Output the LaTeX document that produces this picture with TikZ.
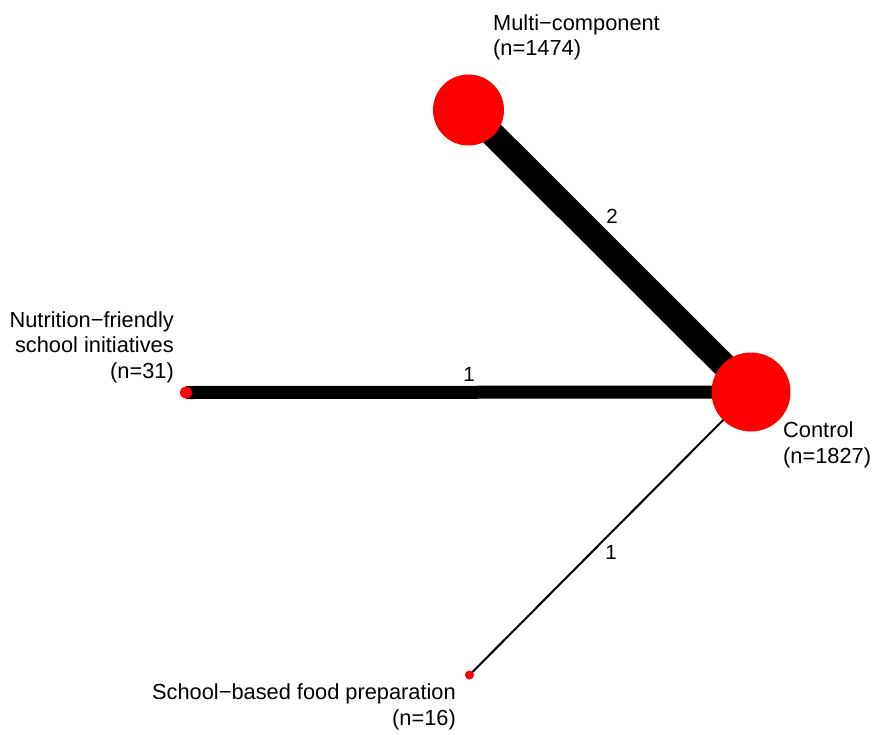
\documentclass[tikz,border=0pt]{standalone}
\usepackage{fontspec}
\setmainfont{Liberation Sans}
\usepackage{tikz}
\usetikzlibrary{backgrounds}

\begin{document}
\begin{tikzpicture}[
  x=1pt, y=-1pt,
  treat/.style={circle, fill=red, draw=none, inner sep=0pt},
  lbl/.style={font=\fontsize{21.8}{25.5}\selectfont, inner sep=0pt, text=black},
  nstudy/.style={font=\fontsize{20.5}{24}\selectfont, inner sep=0pt, text=black},
  arm/.style={black, line cap=butt}
]
  \useasboundingbox (0,0) rectangle (872,734);

  % treatments
  \node[treat, minimum size=71pt] (multi) at (468.5,110) {};
  \node[treat, minimum size=79pt] (ctrl) at (751,392) {};
  \node[treat, minimum size=12pt] (nfsi) at (186,392.5) {};
  \node[treat, minimum size=9pt] (sbfp) at (469.5,675) {};

  % names
  \node[lbl, anchor=west, align=left] (multi-lbl) at (493,37.5) {Multi−component\\(n=1474)};
  \node[lbl, anchor=east, align=right] (nfsi-lbl) at (174,347) {Nutrition−friendly\\school initiatives\\(n=31)};
  \node[lbl, anchor=west, align=left] (ctrl-lbl) at (783,445) {Control\\(n=1827)};
  \node[lbl, anchor=east, align=right] (sbfp-lbl) at (456,707) {School−based food preparation\\(n=16)};

  % comparisons
  \begin{scope}[on background layer]
    \draw[arm, line width=25pt] (multi.center) -- (ctrl.center);
    \draw[arm, line width=13pt] (nfsi.center) -- (ctrl.center);
    \draw[arm, line width=2pt] (sbfp.center) -- (ctrl.center);
  \end{scope}

  \node[nstudy] (n-multi) at (612,216) {2};
  \node[nstudy] (n-nfsi) at (469,374) {1};
  \node[nstudy] (n-sbfp) at (611,552) {1};
\end{tikzpicture}
\end{document}
